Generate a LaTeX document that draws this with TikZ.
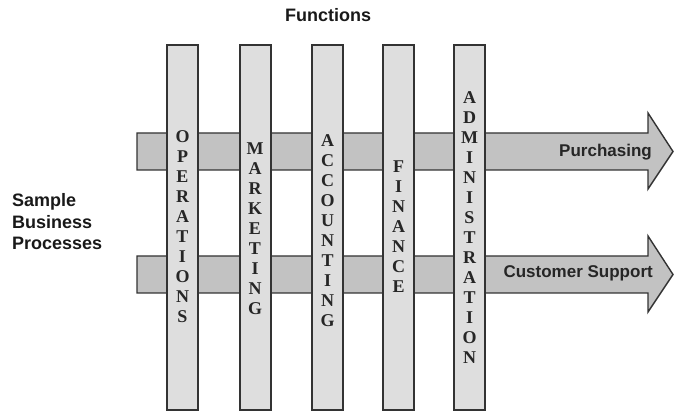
\documentclass[tikz,border=0pt]{standalone}
\usepackage{fontspec}
\setmainfont{Liberation Serif}
\setsansfont{Liberation Sans}
\begin{document}
\begin{tikzpicture}[x=1pt,y=-1pt,
  outline/.style={draw=black!80,line width=1.4pt,line join=miter},
  procarrow/.style={outline,fill=black!24},
  funcbar/.style={outline,fill=black!13},
  barletters/.style={font=\fontsize{18}{20}\selectfont\bfseries\rmfamily,align=center,inner sep=0pt,text=black!85},
  proclabel/.style={font=\fontsize{17}{20}\selectfont\bfseries\sffamily,anchor=east,inner sep=0pt,text=black!85},
  heading/.style={font=\fontsize{18}{21.5}\selectfont\bfseries\sffamily,inner sep=0pt,text=black!90}]
\useasboundingbox (0,0) rectangle (675,411);

% process arrows (behind the function bars)
\path[procarrow] (137,133) -- (648,133) -- (648,113) -- (673,151.5) -- (648,189) -- (648,170) -- (137,170) -- cycle;
\path[procarrow] (137,256) -- (648,256) -- (648,236) -- (673,274.5) -- (648,312) -- (648,293) -- (137,293) -- cycle;

% function bars
\foreach \name/\xl in {ops/167,mkt/240,acc/312,fin/383,adm/454}{
  \path[funcbar] (\xl,45) rectangle ++(31,365);
}

% stacked letters
\node[barletters] (ops) at (182.5,227) {O\\P\\E\\R\\A\\T\\I\\O\\N\\S};
\node[barletters] (mkt) at (255,229) {M\\A\\R\\K\\E\\T\\I\\N\\G};
\node[barletters] (acc) at (327.5,231) {A\\C\\C\\O\\U\\N\\T\\I\\N\\G};
\node[barletters] (fin) at (398.5,227) {F\\I\\N\\A\\N\\C\\E};
\node[barletters] (adm) at (469.5,228) {A\\D\\M\\I\\N\\I\\S\\T\\R\\A\\T\\I\\O\\N};

% process labels
\node[proclabel] (purch) at (652,152) {Purchasing};
\node[proclabel] (cust) at (653,273) {Customer Support};

% headings
\node[heading] (func) at (328,15) {Functions};
\node[heading,align=left,anchor=west] (sbp) at (12,222) {Sample\\Business\\Processes};
\end{tikzpicture}
\end{document}
